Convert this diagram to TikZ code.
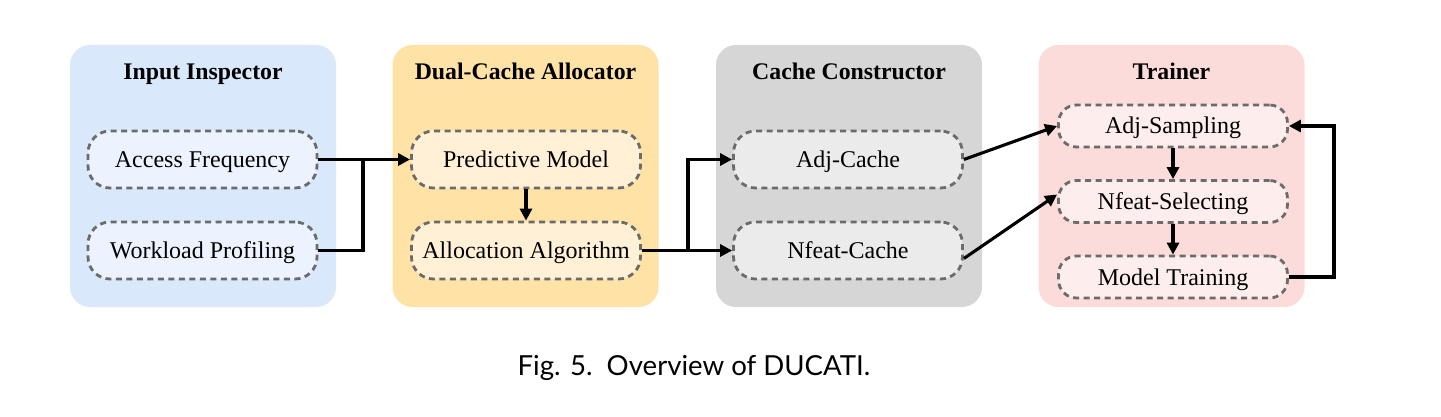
\documentclass[tikz,border=0pt]{standalone}
\usepackage{fontspec}
\setmainfont{Liberation Serif}
\newfontfamily\capfont{Lato}
\usetikzlibrary{arrows.meta}
\definecolor{bluebg}{HTML}{DAE8FC}
\definecolor{blueinner}{HTML}{ECF3FE}
\definecolor{orangebg}{HTML}{FFE2A6}
\definecolor{orangeinner}{HTML}{FFF0D6}
\definecolor{graybg}{HTML}{D6D6D6}
\definecolor{grayinner}{HTML}{EBEBEB}
\definecolor{pinkbg}{HTML}{FBDCDB}
\definecolor{pinkinner}{HTML}{FDEDED}
\definecolor{dashgray}{HTML}{6B6B6B}
\tikzset{
  groupbox/.style={rounded corners=20pt, minimum width=266pt, minimum height=262pt, inner sep=0pt, draw=none},
  grouptitle/.style={font=\fontsize{23.8}{28}\selectfont\bfseries, inner sep=0pt, text height=15.9pt, text depth=0pt},
  stepbox/.style={rounded corners=22pt, draw=dashgray, line width=2.8pt, dash pattern=on 6pt off 4.5pt, minimum width=229pt, minimum height=57pt, inner sep=0pt, text height=16pt, text depth=0pt, font=\fontsize{24}{28}\selectfont},
  smallstep/.style={stepbox, minimum height=42pt, rounded corners=18pt},
  conn/.style={line width=3.1pt, -{Triangle[length=12pt,width=12pt]}},
  plain/.style={line width=3.1pt},
}
\begin{document}
\begin{tikzpicture}[x=1pt,y=-1pt]
\useasboundingbox (0,0) rectangle (1441,417);
% groups
\node[groupbox, fill=bluebg] (g1) at (203,176) {};
\node[groupbox, fill=orangebg] (g2) at (525.5,176) {};
\node[groupbox, fill=graybg] (g3) at (849,176) {};
\node[groupbox, fill=pinkbg] (g4) at (1171.5,176) {};
\node[grouptitle] (t1) at (203,72) {Input Inspector};
\node[grouptitle] (t2) at (525.5,72) {Dual-Cache Allocator};
\node[grouptitle] (t3) at (849,72) {Cache Constructor};
\node[grouptitle] (t4) at (1171.5,72) {Trainer};
% steps
\node[stepbox, fill=blueinner] (af) at (202.5,159.5) {Access Frequency};
\node[stepbox, fill=blueinner] (wp) at (202.5,250.5) {Workload Profiling};
\node[stepbox, fill=orangeinner] (pm) at (526,159.5) {Predictive Model};
\node[stepbox, fill=orangeinner] (aa) at (526,250.5) {Allocation Algorithm};
\node[stepbox, fill=grayinner] (ac) at (848,159.5) {Adj-Cache};
\node[stepbox, fill=grayinner] (nc) at (848,250.5) {Nfeat-Cache};
\node[smallstep, fill=pinkinner] (as) at (1173,126) {Adj-Sampling};
\node[smallstep, fill=pinkinner] (ns) at (1173,201.5) {Nfeat-Selecting};
\node[smallstep, fill=pinkinner] (mt) at (1173,277) {Model Training};
% junctions
\coordinate (j1) at (363,250.5);
\coordinate (j2) at (688,250.5);
\coordinate (j3) at (1334,277);
% connectors
\draw[conn] (af.east) -- (pm.west);
\draw[plain] (wp.east) -- (j1) -- (j1 |- af.east);
\draw[conn] (pm.south) -- (aa.north);
\draw[conn] (aa.east) -- (nc.west);
\draw[conn] (j2) -- (j2 |- ac.west) -- (ac.west);
\draw[conn] (ac.east) -- (as.west);
\draw[conn] ([yshift=-8pt]nc.east) -- ([yshift=7pt]ns.west);
\draw[conn] (as.south) -- (ns.north);
\draw[conn] (ns.south) -- (mt.north);
\draw[conn] (mt.east) -- (j3) -- (j3 |- as.east) -- (as.east);
% caption
\node[font=\capfont\fontsize{27.6}{32}\selectfont, inner sep=0pt] (cap) at (694,368) {Fig. 5.\ \ Overview of DUCATI.};
\end{tikzpicture}
\end{document}
